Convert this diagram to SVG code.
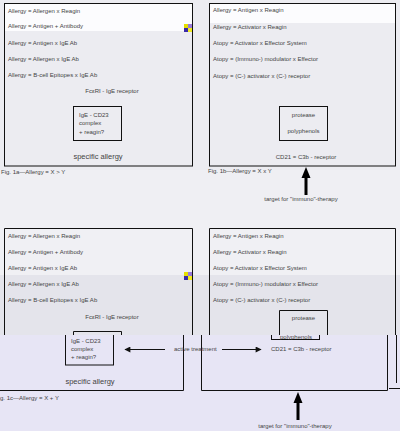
<svg xmlns="http://www.w3.org/2000/svg" width="400" height="431" viewBox="0 0 400 431">
<defs>
<style>
.t{font-family:"Liberation Sans",Arial,sans-serif;font-size:6px;fill:#444}
.c{text-anchor:middle}
.big{font-family:"Liberation Sans",Arial,sans-serif;font-size:7.5px;fill:#444;text-anchor:middle}
.box{fill:none;stroke:#111;stroke-width:1}
.ln{stroke:#111;stroke-width:1;fill:none}
</style>
<marker id="ah" viewBox="0 0 10 10" refX="9" refY="5" markerWidth="7" markerHeight="6" markerUnits="userSpaceOnUse" orient="auto"><path d="M0,0L10,5L0,10z" fill="#111"/></marker>
<clipPath id="upper"><rect x="0" y="0" width="400" height="335"/></clipPath>
<clipPath id="lower"><rect x="0" y="335" width="400" height="96"/></clipPath>
</defs>
<!-- backgrounds -->
<rect x="0" y="0" width="400" height="431" fill="#ececf1"/>
<rect x="5" y="4" width="187" height="27" fill="#fcfcfe"/>
<rect x="210" y="4" width="186" height="19" fill="#fcfcfe"/>
<rect x="0" y="170" width="400" height="50" fill="#efeff3"/>
<rect x="0" y="220" width="400" height="55" fill="#f0f0f4"/>
<rect x="0" y="275" width="400" height="60" fill="#e4e4eb"/>
<rect x="0" y="335" width="400" height="96" fill="#e7e5f5"/>

<!-- Fig 1a -->
<g id="fig1a">
<rect class="box" x="4.5" y="3.5" width="188" height="162.5"/>
<text class="t" x="8" y="13">Allergy = Allergen x Reagin</text>
<text class="t" x="8" y="28">Allergy = Antigen + Antibody</text>
<text class="t" x="8" y="45">Allergy = Antigen x IgE Ab</text>
<text class="t" x="8" y="61">Allergy = Allergen x IgE Ab</text>
<text class="t" x="8" y="77">Allergy = B-cell Epitopes x IgE Ab</text>
<text class="t c" x="112" y="93">FcεRI - IgE receptor</text>
<g id="igecomplex1a">
<rect class="box" x="73.5" y="106.5" width="48" height="34"/>
<text class="t" x="79" y="117">IgE - CD23</text>
<text class="t" x="79" y="125">complex</text>
<text class="t" x="79" y="134">+ reagin?</text>
</g>
<text class="big" x="98" y="158.5">specific allergy</text>
<text class="t" x="1" y="174">Fig. 1a—Allergy = X &gt; Y</text>
</g>
<!-- glitch 1 -->
<g id="glitch1">
<rect x="184" y="24" width="4" height="4" fill="#e6e000"/>
<rect x="188" y="24" width="4" height="4" fill="#9a7ad8"/>
<rect x="184" y="28" width="4" height="4" fill="#3a2aa8"/>
<rect x="188" y="28" width="4" height="4" fill="#f2ec20"/>
</g>

<!-- Fig 1b -->
<g id="fig1b">
<rect class="box" x="209.5" y="3.5" width="186" height="162.5"/>
<text class="t" x="213" y="12">Allergy = Antigen x Reagin</text>
<text class="t" x="213" y="28.5">Allergy = Activator x Reagin</text>
<text class="t" x="213" y="45">Atopy = Activator x Effector System</text>
<text class="t" x="213" y="61">Atopy = (Immuno-) modulator x Effector</text>
<text class="t" x="213" y="78">Atopy = (C-) activator x (C-) receptor</text>
<g id="protease1b">
<rect class="box" x="279.5" y="106.5" width="48" height="34"/>
<text class="t c" x="303.5" y="117">protease</text>
<text class="t c" x="303.5" y="132.5">polyphenols</text>
</g>
<text class="t c" x="306" y="158.5">CD21 = C3b - receptor</text>
<text class="t" x="208" y="173">Fig. 1b—Allergy = X x Y</text>
<text class="t c" x="301" y="201">target for "immuno"-therapy</text>
</g>

<!-- Fig 1c upper part -->
<g id="fig1c-upper" clip-path="url(#upper)">
<path class="ln" d="M4.5,340V228.5H192.5V340"/>
<text class="t" x="8" y="238">Allergy = Allergen x Reagin</text>
<text class="t" x="8" y="254">Allergy = Antigen + Antibody</text>
<text class="t" x="8" y="270">Allergy = Antigen x IgE Ab</text>
<text class="t" x="8" y="286">Allergy = Allergen x IgE Ab</text>
<text class="t" x="8" y="302">Allergy = B-cell Epitopes x IgE Ab</text>
<text class="t c" x="112" y="319">FcεRI - IgE receptor</text>
<path class="ln" d="M73.5,340V331.5H121.5V340"/>
<path class="ln" d="M209.5,340V228.5H395.5V340"/>
<text class="t" x="213" y="238">Allergy = Antigen x Reagin</text>
<text class="t" x="213" y="254">Allergy = Activator x Reagin</text>
<text class="t" x="213" y="270">Atopy = Activator x Effector System</text>
<text class="t" x="213" y="286">Atopy = (Immuno-) modulator x Effector</text>
<text class="t" x="213" y="302">Atopy = (C-) activator x (C-) receptor</text>
<path class="ln" d="M279.5,340V310.5H327.5V340"/>
<text class="t c" x="303.5" y="320">protease</text>
</g>
<g id="glitch2">
<rect x="184" y="272" width="4" height="4" fill="#e6e000"/>
<rect x="188" y="272" width="4" height="4" fill="#9a7ad8"/>
<rect x="184" y="276" width="4" height="4" fill="#3a2aa8"/>
<rect x="188" y="276" width="4" height="4" fill="#f2ec20"/>
</g>

<!-- Fig 1c lower part (shifted) -->
<g id="fig1c-lower" clip-path="url(#lower)">
<path class="ln" d="M-3.5,300V390.5H183.5V300"/>
<rect class="box" x="65.5" y="320.5" width="48" height="44.5"/>
<text class="t" x="71" y="343">IgE - CD23</text>
<text class="t" x="71" y="350.5">complex</text>
<text class="t" x="71" y="358.5">+ reagin?</text>
<text class="big" x="90" y="383.5">specific allergy</text>
<text class="t" x="0" y="400">g. 1c—Allergy = X + Y</text>
<path class="ln" d="M201.5,300V390.5H387.5V300"/>
<rect class="box" x="271.5" y="300.5" width="48" height="39"/>
<text class="t c" x="296" y="338.5">polyphenols</text>
<text class="t" x="271" y="351">CD21 = C3b - receptor</text>
<path class="ln" d="M396.5,335V383M389,388.5H400"/>
</g>

<!-- connectors -->
<g id="connectors">
<line x1="306" y1="195" x2="306" y2="177" stroke="#000" stroke-width="3"/>
<path d="M301.5,178L306,167L310.5,178z" fill="#000"/>
<line x1="165" y1="349.5" x2="125" y2="349.5" class="ln" marker-end="url(#ah)"/>
<line x1="222" y1="349.5" x2="261" y2="349.5" class="ln" marker-end="url(#ah)"/>
<line x1="298" y1="420" x2="298" y2="402" stroke="#000" stroke-width="3"/>
<path d="M293.5,403L298,392L302.5,403z" fill="#000"/>
</g>
<text class="t" x="174" y="351">active treatment</text>
<text class="t c" x="295" y="428">target for "immuno"-therapy</text>
</svg>
